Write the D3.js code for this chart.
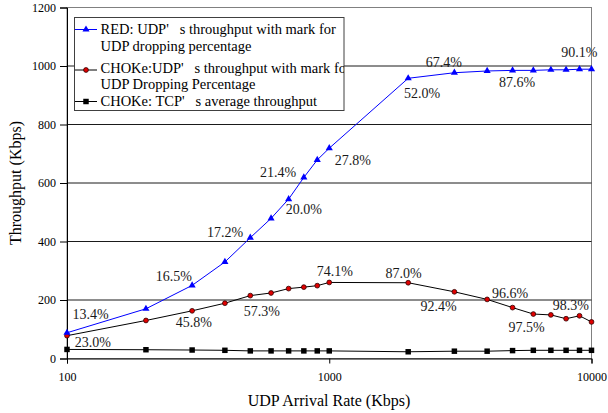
<!DOCTYPE html>
<html>
<head>
<meta charset="utf-8">
<script src="https://cdn.jsdelivr.net/npm/d3@7"></script>
<style>
  html, body { margin: 0; padding: 0; background: #fff; }
  svg text { font-family: "Liberation Serif", "DejaVu Serif", "Times New Roman", Times, serif !important; }
</style>
</head>
<body>
<svg id="chart" width="608" height="413"></svg>
<script>
// ---------------- data ----------------
const arrivalRates = [100, 200, 300, 400, 500, 600, 700, 800, 900, 1000,
                      2000, 3000, 4000, 5000, 6000, 7000, 8000, 9000, 10000];
const redUdp   = [88, 170, 250, 330, 413, 479, 545, 619, 679, 719,
                  958, 977, 983, 985, 985, 987, 987, 989, 989];
const chokeUdp = [78, 130, 163, 189, 215, 224, 239, 244, 249, 260,
                  259, 228, 202, 174, 152, 149, 136, 146, 125];
const chokeTcp = [31, 30, 29, 28, 26, 26, 26, 26, 26, 26,
                  23, 25, 25, 27, 28, 28, 28, 28, 28];
const xTicks = [100, 1000, 10000];
const yTicks = [0, 200, 400, 600, 800, 1000, 1200];
// annotation labels: text and anchor (left/baseline) in data units
const redLabels = [
  ["13.4%", 105, 135], ["16.5%", 218, 265], ["17.2%", 342, 415],
  ["21.4%", 544, 622], ["20.0%", 683, 494], ["27.8%", 1050, 661],
  ["52.0%", 1927, 891], ["67.4%", 2331, 995], ["87.6%", 4436, 928],
  ["90.1%", 7665, 1032]
];
const chokeLabels = [
  ["23.0%", 107, 41], ["45.8%", 260, 108], ["57.3%", 472, 144],
  ["74.1%", 896, 282], ["87.0%", 1637, 275], ["92.4%", 2226, 161],
  ["96.6%", 4171, 207], ["97.5%", 4830, 91], ["98.3%", 7123, 166]
];
const legendLines = [
  "RED: UDP'   s throughput with mark for",
  "UDP dropping percentage",
  "CHOKe:UDP'   s throughput with mark for",
  "UDP Dropping Percentage",
  "CHOKe: TCP'   s average throughput"
];

// ---------------- layout ----------------
const FONT = '"Liberation Serif", "DejaVu Serif", "Times New Roman", serif';
const L = 67, R = 591.5, T = 7.5, B = 358.5;
const svg = d3.select("#chart");
const x = d3.scaleLog().domain([100, 10000]).range([L, R]);
const y = d3.scaleLinear().domain([0, 1200]).range([B, T]);

// plot border (top/right gray)
svg.append("rect").attr("x", L).attr("y", T).attr("width", R - L).attr("height", B - T)
  .attr("fill", "none").attr("stroke", "#808080").attr("stroke-width", 1);

// gridlines
svg.append("g").selectAll("line").data(yTicks.filter(d => d > 0 && d < 1200)).join("line")
  .attr("x1", L).attr("x2", R).attr("y1", d => y(d)).attr("y2", d => y(d))
  .attr("stroke", "#1a1a1a").attr("stroke-width", 1);

// axes
const yAxis = d3.axisLeft(y).tickValues(yTicks).tickSize(7).tickPadding(4).tickFormat(d3.format("d"));
const gy = svg.append("g").attr("transform", `translate(${L},0)`).call(yAxis)
  .attr("font-family", FONT).attr("font-size", 12);
gy.select(".domain").attr("stroke", "#000");
gy.selectAll(".tick line").attr("stroke", "#000");
gy.selectAll(".tick text").attr("fill", "#000");

const xAxis = d3.axisBottom(x).tickValues(xTicks).tickSize(5).tickPadding(9).tickFormat(d3.format("d"));
const gx = svg.append("g").attr("transform", `translate(0,${B})`).call(xAxis)
  .attr("font-family", FONT).attr("font-size", 12);
gx.select(".domain").attr("stroke", "#000");
gx.selectAll(".tick line").attr("stroke", "#000");
gx.selectAll(".tick text").attr("fill", "#000");

// axis titles
svg.append("text").attr("x", 329).attr("y", 406).attr("text-anchor", "middle")
  .attr("font-family", FONT).attr("font-size", 16).text("UDP Arrival Rate (Kbps)");
svg.append("text").attr("transform", "translate(21,183) rotate(-90)").attr("text-anchor", "middle")
  .attr("font-family", FONT).attr("font-size", 16).text("Throughput (Kbps)");

// series
const line = d3.line().x(d => x(d[0])).y(d => y(d[1]));
const tri = d3.symbol().type(d3.symbolTriangle).size(22);
const sq = d3.symbol().type(d3.symbolSquare).size(30);

function pts(vals) { return arrivalRates.map((r, i) => [r, vals[i]]); }

// CHOKe TCP
svg.append("path").datum(pts(chokeTcp)).attr("d", line)
  .attr("fill", "none").attr("stroke", "#000").attr("stroke-width", 1);
svg.append("g").selectAll("path").data(pts(chokeTcp)).join("path")
  .attr("d", sq).attr("transform", d => `translate(${x(d[0])},${y(d[1])})`).attr("fill", "#000");

// CHOKe UDP
svg.append("path").datum(pts(chokeUdp)).attr("d", line)
  .attr("fill", "none").attr("stroke", "#000").attr("stroke-width", 1);
svg.append("g").selectAll("circle").data(pts(chokeUdp)).join("circle")
  .attr("cx", d => x(d[0])).attr("cy", d => y(d[1])).attr("r", 2.4)
  .attr("fill", "#e00000").attr("stroke", "#300000").attr("stroke-width", 0.8);

// RED UDP
svg.append("path").datum(pts(redUdp)).attr("d", line)
  .attr("fill", "none").attr("stroke", "#0000ff").attr("stroke-width", 1);
svg.append("g").selectAll("path").data(pts(redUdp)).join("path")
  .attr("d", tri).attr("transform", d => `translate(${x(d[0])},${y(d[1])})`).attr("fill", "#0000ff");

// annotation labels
svg.append("g").selectAll("text").data(redLabels.concat(chokeLabels)).join("text")
  .attr("x", d => x(d[1])).attr("y", d => y(d[2]))
  .attr("font-family", FONT).attr("font-size", 14).attr("fill", "#1a1a1a").text(d => d[0]);

// legend
const lg = svg.append("g");
const lx = 74.5, ly = 17.5, lw = 269.5, lh = 93;
svg.append("defs").append("clipPath").attr("id", "lgclip")
  .append("rect").attr("x", lx).attr("y", ly).attr("width", lw).attr("height", lh);
lg.append("rect").attr("x", lx).attr("y", ly).attr("width", lw).attr("height", lh)
  .attr("fill", "#fff").attr("stroke", "#404040").attr("stroke-width", 1);
const baselines = [34, 51, 72.5, 88.5, 106];
const lt = lg.append("g").attr("clip-path", "url(#lgclip)");
lt.selectAll("text").data(legendLines).join("text")
  .attr("x", 100.5).attr("y", (d, i) => baselines[i])
  .attr("font-family", FONT).attr("font-size", 14.5).attr("fill", "#000")
  .style("white-space", "pre").text(d => d);
const markerY = [29.5, 70, 101.5];
["#0000ff", "#000", "#000"].forEach((c, i) => {
  lg.append("line").attr("x1", 75).attr("x2", 97).attr("y1", markerY[i]).attr("y2", markerY[i])
    .attr("stroke", c).attr("stroke-width", 1);
});
lg.append("path").attr("d", tri).attr("transform", `translate(86,${markerY[0]})`).attr("fill", "#0000ff");
lg.append("circle").attr("cx", 86).attr("cy", markerY[1]).attr("r", 2.4)
  .attr("fill", "#e00000").attr("stroke", "#300000").attr("stroke-width", 0.8);
lg.append("path").attr("d", sq).attr("transform", `translate(86,${markerY[2]})`).attr("fill", "#000");
</script>
</body>
</html>
